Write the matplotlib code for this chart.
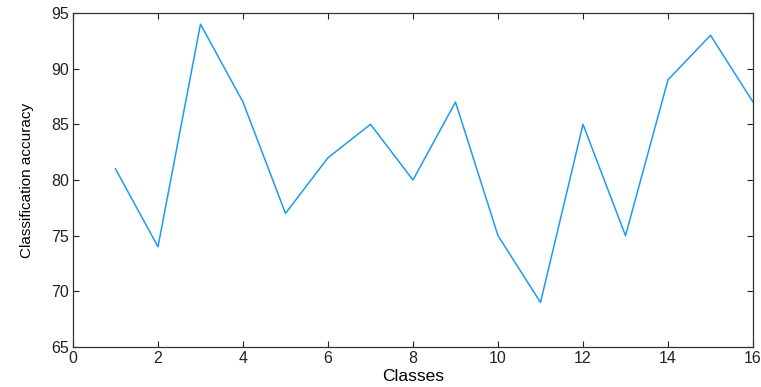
import matplotlib.pyplot as plt
import numpy as np

plt.rcParams['font.family'] = ['Liberation Sans', 'DejaVu Sans']

# per-class accuracy
classes = np.arange(1, 17)
accuracy = [81, 74, 94, 87, 77, 82, 85, 80, 87, 75, 69, 85, 75, 89, 93, 87]

fig = plt.figure(figsize=(7.61, 3.87), dpi=100)
ax = fig.add_axes([0.0959, 0.1034, 0.8936, 0.863])

ax.plot(classes, accuracy, color='#1E9BF0', lw=1.1)

ax.set_xlim(0, 16)
ax.set_ylim(65, 95)
ax.set_xticks(np.arange(0, 17, 2))
ax.set_yticks(np.arange(65, 96, 5))
ax.tick_params(direction='in', top=True, right=True, labelsize=11.5,
               length=4, width=0.8, colors='#222222', pad=3)
for s in ax.spines.values():
    s.set_linewidth(0.9)
    s.set_color('#333333')

ax.set_xlabel('Classes', fontsize=12.5, labelpad=2)
ax.set_ylabel('Classification accuracy', fontsize=11, labelpad=12)

fig.savefig('out.png', dpi=100)
